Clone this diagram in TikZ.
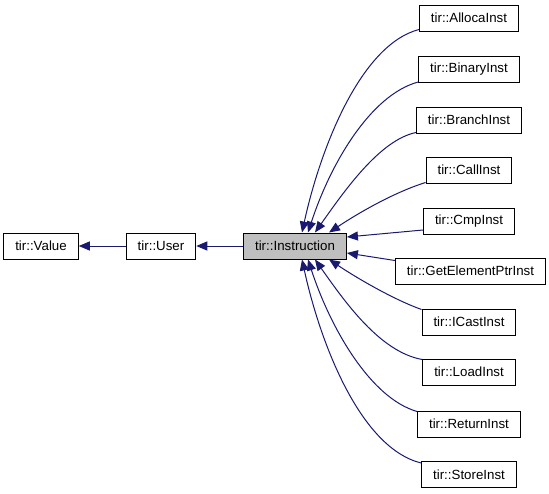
\documentclass[tikz,border=0pt]{standalone}
\usepackage{fontspec}
\setmainfont{Liberation Sans}
\usetikzlibrary{arrows.meta}
\definecolor{edgeblue}{HTML}{191970}
\definecolor{curgrey}{HTML}{BFBFBF}

\begin{document}
\begin{tikzpicture}[x=1pt,y=-1pt,
  cls/.style={draw=black,line width=1pt,fill=white,minimum height=26pt,inner xsep=11.5pt,
    font=\fontsize{13.3}{16}\selectfont},
  cur/.style={cls,fill=curgrey},
  inh/.style={draw=edgeblue,line width=1pt,-{Triangle[length=11pt,width=9pt]}}]
  \useasboundingbox (0,0) rectangle (549,493);
  % classes
  \node[cls] (value) at (41,246) {tir::Value};
  \node[cls] (user) at (161,246) {tir::User};
  \node[cur] (instr) at (295,246) {tir::Instruction};
  \node[cls] (alloca) at (469,18) {tir::AllocaInst};
  \node[cls] (binary) at (469,69.5) {tir::BinaryInst};
  \node[cls] (branch) at (469,120) {tir::BranchInst};
  \node[cls] (call) at (469,170) {tir::CallInst};
  \node[cls] (cmp) at (469,221) {tir::CmpInst};
  \node[cls] (gep) at (470.5,271) {tir::GetElementPtrInst};
  \node[cls] (icast) at (469,322) {tir::ICastInst};
  \node[cls] (load) at (469,372) {tir::LoadInst};
  \node[cls] (return) at (469,424) {tir::ReturnInst};
  \node[cls] (store) at (469,474.5) {tir::StoreInst};
  % inheritance
  \draw[inh] (user) -- (value);
  \draw[inh] (instr) -- (user);
  \draw[inh] ([yshift=2pt]alloca.south west) .. controls (360,45) and (320,150) .. ([xshift=7pt]instr.north);
  \draw[inh] ([yshift=1pt]binary.south west) .. controls (370,95) and (330,165) .. ([xshift=13pt]instr.north);
  \draw[inh] ([yshift=1pt]branch.south west) .. controls (380,140) and (345,190) .. ([xshift=20pt]instr.north);
  \draw[inh] ([yshift=1pt]call.south west) .. controls (395,192) and (360,212) .. ([xshift=34pt]instr.north);
  \draw[inh] ([yshift=-9pt]cmp.west) -- ([yshift=9pt]instr.east);
  \draw[inh] ([yshift=-3pt]gep.north west) -- ([yshift=-7pt]instr.east);
  \draw[inh] ([yshift=-1pt]icast.north west) .. controls (395,300) and (360,280) .. ([xshift=34pt]instr.south);
  \draw[inh] ([yshift=-1pt]load.north west) .. controls (380,352) and (345,302) .. ([xshift=20pt]instr.south);
  \draw[inh] ([yshift=-1pt]return.north west) .. controls (370,398) and (330,327) .. ([xshift=13pt]instr.south);
  \draw[inh] ([yshift=-2pt]store.north west) .. controls (360,448) and (320,342) .. ([xshift=7pt]instr.south);
\end{tikzpicture}
\end{document}
